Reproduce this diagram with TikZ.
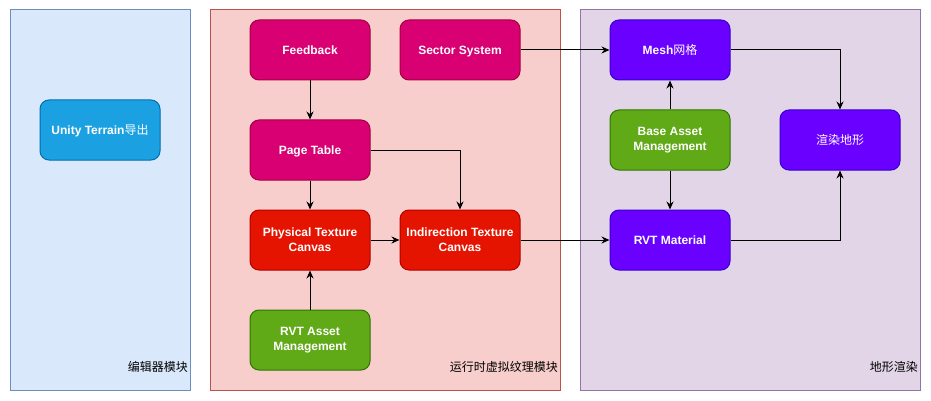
\documentclass[tikz,border=0pt]{standalone}
\usepackage{fontspec}
\setmainfont{Liberation Sans}
\newfontfamily\cjk{Noto Sans CJK SC}
\usetikzlibrary{arrows.meta}
\definecolor{g1fill}{HTML}{DAE8FC}\definecolor{g1line}{HTML}{6C8EBF}
\definecolor{g2fill}{HTML}{F8CECC}\definecolor{g2line}{HTML}{B85450}
\definecolor{g3fill}{HTML}{E1D5E7}\definecolor{g3line}{HTML}{9673A6}
\definecolor{bluef}{HTML}{1BA1E2}\definecolor{bluel}{HTML}{006EAF}
\definecolor{pinkf}{HTML}{D80073}\definecolor{pinkl}{HTML}{A50040}
\definecolor{redf}{HTML}{E51400}\definecolor{redl}{HTML}{B20000}
\definecolor{greenf}{HTML}{60A917}\definecolor{greenl}{HTML}{2D7600}
\definecolor{violf}{HTML}{6A00FF}\definecolor{violl}{HTML}{3700CC}
\tikzset{
  grp/.style={draw=#1line, fill=#1fill, line width=1pt},
  box/.style={draw=#1l, fill=#1f, rounded corners=9pt, minimum width=120pt, minimum height=60pt,
    inner sep=2pt, text=white, font=\fontsize{12}{15}\selectfont\bfseries, align=center, line width=1pt},
  one/.style={text height=8.6pt, text depth=0pt},
  glabel/.style={font=\fontsize{12}{14}\selectfont\cjk, text=black, anchor=base east, inner sep=0pt},
  conn/.style={line width=1pt, -{Stealth[length=8pt,width=7pt]}},
}
\begin{document}
\begin{tikzpicture}[x=1pt,y=-1pt]
\useasboundingbox (0,0) rectangle (931,401);
\fill[white] (0,0) rectangle (931,401);
% groups
\draw[grp=g1] (10,10) rectangle (190,390);
\draw[grp=g2] (210,10) rectangle (560,390);
\draw[grp=g3] (580,10) rectangle (920,390);
\node[glabel] (l1) at (188,371) {编辑器模块};
\node[glabel] (l2) at (558,371) {运行时虚拟纹理模块};
\node[glabel] (l3) at (918,371) {地形渲染};
% nodes
\node[box=blue, one] (unity) at (100,130) {Unity Terrain{\cjk\mdseries 导出}};
\node[box=pink, one] (fb) at (310,50) {Feedback};
\node[box=pink, one] (sec) at (460,50) {Sector System};
\node[box=pink, one] (pt) at (310,150) {Page Table};
\node[box=red] (phy) at (310,240) {Physical Texture\\Canvas};
\node[box=red] (ind) at (460,240) {Indirection Texture\\Canvas};
\node[box=green] (rvta) at (310,340) {RVT Asset\\Management};
\node[box=viol, one] (mesh) at (670,50) {Mesh{\cjk\mdseries 网格}};
\node[box=green] (base) at (670,140) {Base Asset\\Management};
\node[box=viol, one] (render) at (840,140) {{\cjk\mdseries 渲染地形}};
\node[box=viol, one] (mat) at (670,240) {RVT Material};
% connectors
\draw[conn] (fb) -- (pt);
\draw[conn] (pt) -- (phy);
\draw[conn] (pt.east) -| (ind.north);
\draw[conn] (phy) -- (ind);
\draw[conn] (rvta) -- (phy);
\draw[conn] (sec) -- (mesh);
\draw[conn] (ind) -- (mat);
\draw[conn] (base) -- (mesh);
\draw[conn] (base) -- (mat);
\draw[conn] (mesh.east) -| (render.north);
\draw[conn] (mat.east) -| (render.south);
\end{tikzpicture}
\end{document}
